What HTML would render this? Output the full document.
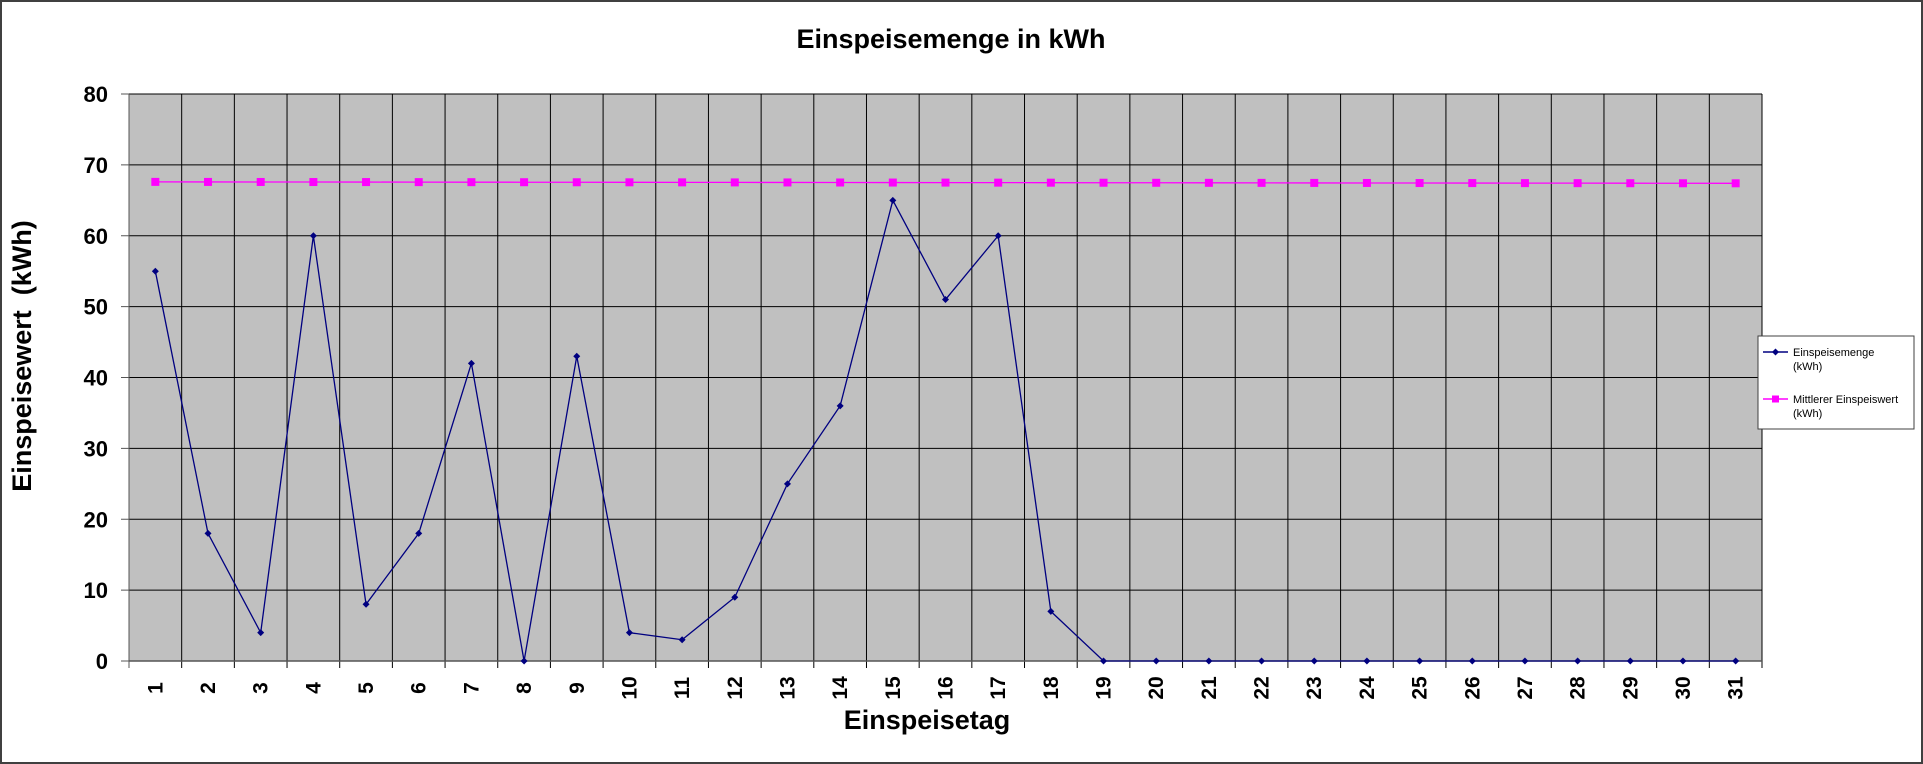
<!DOCTYPE html>
<html><head><meta charset="utf-8"><style>
html,body{margin:0;padding:0;background:#fff;}
svg{display:block;font-family:"Liberation Sans",Arial,sans-serif;}
</style></head><body>
<svg id="s" width="1923" height="764" viewBox="0 0 1923 764" xmlns="http://www.w3.org/2000/svg">
<rect x="1" y="1" width="1921" height="762" fill="#fff" stroke="#404040" stroke-width="2"/>
<text x="951" y="48" text-anchor="middle" font-size="27" font-weight="bold">Einspeisemenge in kWh</text>
<text x="927" y="729" text-anchor="middle" font-size="27" font-weight="bold">Einspeisetag</text>
<text transform="translate(31,356) rotate(-90)" text-anchor="middle" font-size="27" font-weight="bold" xml:space="preserve" style="white-space:pre">Einspeisewert  (kWh)</text>
<rect x="129" y="94" width="1633" height="567" fill="#c0c0c0"/>
<g id="g"></g>
<rect x="1758" y="336" width="156" height="93" fill="#fff" stroke="#404040" stroke-width="1"/>
<line x1="1763" y1="352" x2="1788" y2="352" stroke="#000080" stroke-width="1.5"/>
<path d="M1775.5 348.5 L1779 352 L1775.5 355.5 L1772 352Z" fill="#000080"/>
<text x="1793" y="356" font-size="11">Einspeisemenge</text>
<text x="1793" y="370" font-size="11">(kWh)</text>
<line x1="1763" y1="399" x2="1788" y2="399" stroke="#ff00ff" stroke-width="1.5"/>
<rect x="1772" y="395.5" width="7" height="7" fill="#ff00ff"/>
<text x="1793" y="403" font-size="11">Mittlerer Einspeiswert</text>
<text x="1793" y="417" font-size="11">(kWh)</text>
</svg>
<script>
var NS="http://www.w3.org/2000/svg",g=document.getElementById("g");
function el(t,a,txt){var e=document.createElementNS(NS,t);for(var k in a)e.setAttribute(k,a[k]);if(txt!=null)e.textContent=txt;g.appendChild(e);return e;}
var L=129,R=1762,T=94,B=661,n=31,w=(R-L)/n;
function Y(v){return B-(v/80)*(B-T);}
for(var i=0;i<=8;i++){var y=Y(i*10);el("line",{x1:L,x2:R,y1:y,y2:y,stroke:"#000","stroke-width":1});
el("line",{x1:L-8,x2:L,y1:y,y2:y,stroke:"#555","stroke-width":1});
el("text",{x:108,y:y+8,"text-anchor":"end","font-size":22,"font-weight":"bold"},String(i*10));}
for(var i=0;i<=n;i++){var x=L+i*w;el("line",{x1:x,x2:x,y1:T,y2:B+7,stroke:i==0?"#555":"#000","stroke-width":1});}
el("line",{x1:L,x2:R,y1:B,y2:B,stroke:"#555","stroke-width":1.5});
var d=[55,18,4,60,8,18,42,0,43,4,3,9,25,36,65,51,60,7,0,0,0,0,0,0,0,0,0,0,0,0,0];
var p1=[],p2=[];
for(var i=0;i<n;i++){var x=L+(i+0.5)*w;p1.push(x+","+Y(d[i]));var m=67.6-0.2*i/30;p2.push(x+","+Y(m));
el("text",{transform:"translate("+(x+7)+",688) rotate(-90)","text-anchor":"middle","font-size":21,"font-weight":"bold"},String(i+1));}
el("polyline",{points:p2.join(" "),fill:"none",stroke:"#ff00ff","stroke-width":1.3});
el("polyline",{points:p1.join(" "),fill:"none",stroke:"#000080","stroke-width":1.3});
for(var i=0;i<n;i++){var x=L+(i+0.5)*w,y=Y(d[i]),m=Y(67.6-0.2*i/30);
el("rect",{x:x-4,y:m-4,width:8,height:8,fill:"#ff00ff"});
el("path",{d:"M"+x+" "+(y-3.5)+"L"+(x+3.5)+" "+y+"L"+x+" "+(y+3.5)+"L"+(x-3.5)+" "+y+"Z",fill:"#000080"});}
</script>
</body></html>
